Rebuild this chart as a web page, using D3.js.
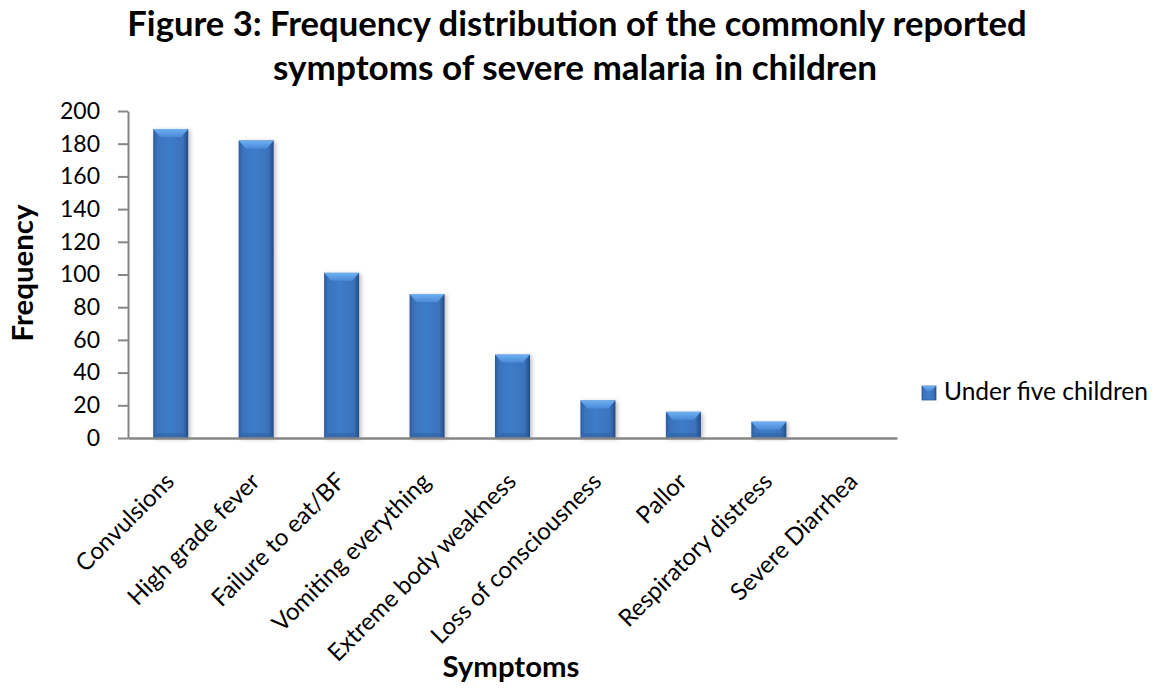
<!DOCTYPE html>
<html>
<head>
<meta charset="utf-8">
<script src="https://cdn.jsdelivr.net/npm/d3@7"></script>
<style>
  html, body { margin: 0; padding: 0; background: #ffffff; }
  svg { display: block; }
  text { font-family: Lato, "Open Sans", sans-serif; fill: #000; }
</style>
</head>
<body>
<svg id="chart" width="1159" height="689"></svg>
<script>
// Symptoms reported for under-five children with severe malaria
const symptoms = [
  "Convulsions", "High grade fever", "Failure to eat/BF", "Vomiting everything",
  "Extreme body weakness", "Loss of consciousness", "Pallor",
  "Respiratory distress", "Severe Diarrhea"
];
const frequency = [189, 182, 101, 88, 51, 23, 16, 10, 0];
const yTicks = [0, 20, 40, 60, 80, 100, 120, 140, 160, 180, 200];
const titleLines = [
  "Figure 3: Frequency distribution of the commonly reported",
  "symptoms of severe malaria in children"
];
const seriesName = "Under five children";

const svg = d3.select("#chart");
const plot = { left: 128, right: 897, top: 111, bottom: 438 };

const x = d3.scaleBand()
  .domain(symptoms)
  .range([plot.left, plot.right])
  .paddingInner(0.59)
  .paddingOuter(0.295);

const y = d3.scaleLinear()
  .domain([0, 200])
  .range([plot.bottom, plot.top]);

// Shrink or grow a text node's font size until it spans the given width
function fitWidth(sel, width) {
  const node = sel.node();
  const fs = parseFloat(sel.attr("font-size"));
  const w = node.getComputedTextLength();
  sel.attr("font-size", (fs * width / w).toFixed(2));
  return sel;
}

// ---- gradients for the bevelled bars ----
const defs = svg.append("defs");
const body = defs.append("linearGradient").attr("id", "barBody")
  .attr("x1", "0").attr("x2", "1").attr("y1", "0").attr("y2", "0");
body.append("stop").attr("offset", "0").attr("stop-color", "#2d5c9c");
body.append("stop").attr("offset", "0.12").attr("stop-color", "#3a73bd");
body.append("stop").attr("offset", "0.45").attr("stop-color", "#3e7cc9");
body.append("stop").attr("offset", "0.85").attr("stop-color", "#3a72bb");
body.append("stop").attr("offset", "1").attr("stop-color", "#244b80");

const topBevel = defs.append("linearGradient").attr("id", "barTop")
  .attr("x1", "0").attr("x2", "0").attr("y1", "0").attr("y2", "1");
topBevel.append("stop").attr("offset", "0").attr("stop-color", "#6fb0f2");
topBevel.append("stop").attr("offset", "1").attr("stop-color", "#4a8ad8");

const shadow = defs.append("filter").attr("id", "barShadow")
  .attr("x", "-30%").attr("y", "-10%").attr("width", "160%").attr("height", "130%");
shadow.append("feDropShadow")
  .attr("dx", 2).attr("dy", 1).attr("stdDeviation", 2)
  .attr("flood-color", "#000").attr("flood-opacity", 0.25);

// ---- bars ----
const bars = svg.append("g").attr("class", "bars");
const rows = symptoms.map((s, i) => ({ name: s, value: frequency[i] }))
  .filter(d => d.value > 0);

const bar = bars.selectAll("g.bar").data(rows).join("g").attr("class", "bar");

bar.append("rect")
  .attr("x", d => x(d.name))
  .attr("y", d => y(d.value))
  .attr("width", x.bandwidth())
  .attr("height", d => y(0) - y(d.value))
  .attr("fill", "url(#barBody)")
  .attr("filter", "url(#barShadow)");

// lighter bevel on the top face of each bar
bar.append("path")
  .attr("fill", "url(#barTop)")
  .attr("d", d => {
    const x0 = x(d.name), x1 = x0 + x.bandwidth(), yt = y(d.value);
    const bh = Math.min(8, (y(0) - yt) / 2), inset = 7;
    return `M${x0},${yt}L${x1},${yt}L${x1 - inset},${yt + bh}L${x0 + inset},${yt + bh}Z`;
  });

// darker bevel at the foot of each bar
bar.append("path")
  .attr("fill", "#2f609f")
  .attr("opacity", 0.55)
  .attr("d", d => {
    const x0 = x(d.name), x1 = x0 + x.bandwidth(), yb = y(0);
    const bh = Math.min(5, (y(0) - y(d.value)) / 3), inset = 5;
    return `M${x0},${yb}L${x1},${yb}L${x1 - inset},${yb - bh}L${x0 + inset},${yb - bh}Z`;
  });

// ---- axes ----
const axisColor = "#868686";

const yAxis = svg.append("g")
  .attr("transform", `translate(${plot.left},0)`)
  .call(d3.axisLeft(y).tickValues(yTicks).tickSize(10).tickPadding(18).tickSizeOuter(0));
yAxis.select(".domain").attr("stroke", axisColor).attr("stroke-width", 2);
yAxis.selectAll(".tick line").attr("stroke", axisColor).attr("stroke-width", 2);
yAxis.selectAll(".tick text")
  .attr("font-size", 23).attr("font-family", "Lato, sans-serif").attr("fill", "#000");

const xAxis = svg.append("g")
  .attr("transform", `translate(0,${plot.bottom})`)
  .call(d3.axisBottom(x).tickSize(0).tickSizeOuter(0).tickPadding(0));
xAxis.select(".domain").attr("stroke", axisColor).attr("stroke-width", 2.5);
xAxis.selectAll(".tick text")
  .attr("font-size", 24)
  .attr("font-family", "Lato, sans-serif")
  .attr("fill", "#000")
  .attr("text-anchor", "end")
  .attr("dy", 0)
  .attr("y", 0)
  .attr("transform", "translate(5,45) rotate(-45)");

// ---- titles ----
const title = svg.append("g").attr("class", "title");
title.append("text")
  .attr("x", 577).attr("y", 36)
  .attr("text-anchor", "middle").attr("font-weight", 700).attr("font-size", 30)
  .text(titleLines[0])
  .call(fitWidth, 900);
title.append("text")
  .attr("x", 575).attr("y", 80)
  .attr("text-anchor", "middle").attr("font-weight", 700).attr("font-size", 30)
  .text(titleLines[1])
  .call(fitWidth, 604);

svg.append("text")
  .attr("x", 511).attr("y", 677)
  .attr("text-anchor", "middle").attr("font-weight", 700).attr("font-size", 25)
  .text("Symptoms")
  .call(fitWidth, 137);

svg.append("text")
  .attr("transform", "translate(33,273) rotate(-90)")
  .attr("text-anchor", "middle").attr("font-weight", 700).attr("font-size", 25)
  .text("Frequency")
  .call(fitWidth, 137);

// ---- legend ----
const legend = svg.append("g").attr("transform", "translate(922,386)");
legend.append("rect")
  .attr("width", 14).attr("height", 14)
  .attr("fill", "url(#barBody)").attr("stroke", "#2c5a96").attr("stroke-width", 0.8);
legend.append("path")
  .attr("d", "M0,0L14,0L9,5L5,5Z").attr("fill", "url(#barTop)");
legend.append("text")
  .attr("x", 22).attr("y", 14)
  .attr("font-size", 21)
  .text(seriesName)
  .call(fitWidth, 204);
</script>
</body>
</html>
